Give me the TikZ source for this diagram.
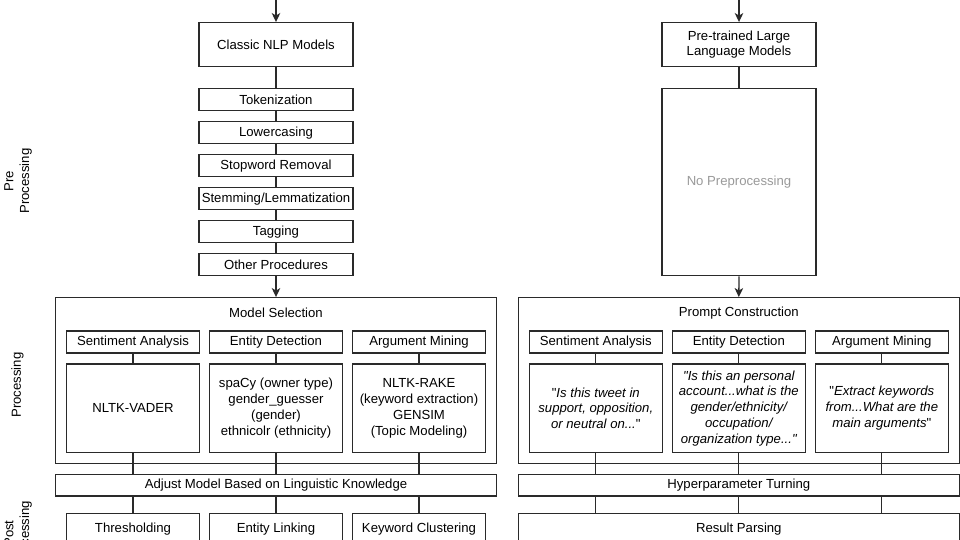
\documentclass[tikz,border=0pt]{standalone}
\usepackage{fontspec}
\setmainfont{Liberation Sans}
\usetikzlibrary{arrows.meta}
\definecolor{ln}{HTML}{2A2A2A}
\definecolor{gtxt}{HTML}{9A9A9A}
\newcommand\dq{\XeTeXglyph\XeTeXcharglyph"22\relax}
\begin{document}
\begin{tikzpicture}[x=1pt,y=-1pt,
  every node/.style={font=\fontsize{13.15}{15.8}\selectfont, text=black},
  box/.style={draw=ln, line width=1.3pt, inner sep=0pt, align=center, fill=white},
  ital/.style={font=\fontsize{13.15}{15.7}\selectfont\itshape},
  conn/.style={draw=ln, line width=1.3pt},
  arr/.style={conn, -{Stealth[length=9pt,width=8.5pt,inset=2.5pt]}},
  lbl/.style={rotate=90, align=center, inner sep=0pt},
  step22/.style={box, minimum width=154pt, minimum height=22pt},
  hdr/.style={box, minimum width=133pt, minimum height=22pt},
  cnt/.style={box, minimum width=133pt, minimum height=88.3pt},
  wide/.style={box, minimum width=441.3pt, minimum height=21.3pt},
]
\useasboundingbox (0,0) rectangle (960,540);

% side labels
\node[lbl] (prelbl) at (18,181) {Pre\\Processing};
\node[lbl] (proclbl) at (17.5,385) {Processing};
\node[lbl] (postlbl) at (18,533.5) {Post\\Processing};

% ---------- left column ----------
\coordinate (topL) at (276,-2);
\node[box, minimum width=154pt, minimum height=44pt] (classic) at (276,44.7) {Classic NLP Models};
\node[step22] (tok)   at (276,99.7)  {Tokenization};
\node[step22] (low)   at (276,132.7) {Lowercasing};
\node[step22] (stop)  at (276,165.7) {Stopword Removal};
\node[step22] (stem)  at (276,198.7) {Stemming/Lemmatization};
\node[step22] (tag)   at (276,231.7) {Tagging};
\node[step22] (other) at (276,264.7) {Other Procedures};

\node[box, minimum width=441.4pt, minimum height=165.6pt] (modsel) at (276,380.5) {};
\node (modseltxt) at (276,312.7) {Model Selection};
\node[hdr] (lh1) at (133,342) {Sentiment Analysis};
\node[hdr] (lh2) at (276,342) {Entity Detection};
\node[hdr] (lh3) at (419,342) {Argument Mining};
\node[cnt] (lc1) at (133,408.2) {NLTK-VADER};
\node[cnt] (lc2) at (276,408.2) {spaCy (owner type)\\gender\_guesser\\(gender)\\ethnicolr (ethnicity)};
\node[cnt] (lc3) at (419,408.2) {NLTK-RAKE\\(keyword extraction)\\GENSIM\\(Topic Modeling)};
\node[wide] (adjust) at (276,485.3) {Adjust Model Based on Linguistic Knowledge};
\node[box, minimum width=133pt, minimum height=32pt] (lp1) at (133,529.3) {Thresholding};
\node[box, minimum width=133pt, minimum height=32pt] (lp2) at (276,529.3) {Entity Linking};
\node[box, minimum width=133pt, minimum height=32pt] (lp3) at (419,529.3) {Keyword Clustering};

% ---------- right column ----------
\coordinate (topR) at (739,-2);
\node[box, minimum width=154pt, minimum height=44pt] (llm) at (739,44.7) {Pre-trained Large\\Language Models};
\node[box, minimum width=154pt, minimum height=187pt, text=gtxt] (noprep) at (739,182.2) {No Preprocessing};

\node[box, minimum width=441pt, minimum height=165.6pt] (prompt) at (738.8,380.5) {};
\node (prompttxt) at (738.8,312.7) {Prompt Construction};
\node[hdr] (rh1) at (595.8,342) {Sentiment Analysis};
\node[hdr] (rh2) at (738.8,342) {Entity Detection};
\node[hdr] (rh3) at (881.8,342) {Argument Mining};
\node[cnt, ital] (rc1) at (595.8,408.2) {{\upshape\dq}Is this tweet in\\support, opposition,\\or neutral on...{\upshape\dq}};
\node[cnt, ital] (rc2) at (738.8,408.2) {\dq Is this an personal\\account...what is the\\gender/ethnicity/\\occupation/\\organization type...\dq};
\node[cnt, ital] (rc3) at (881.8,408.2) {{\upshape\dq}Extract keywords\\from...What are the\\main arguments{\upshape\dq}};
\node[box, minimum width=441pt, minimum height=21.3pt] (hyper) at (738.8,485.3) {Hyperparameter Turning};
\node[box, minimum width=441pt, minimum height=32pt] (result) at (738.8,529.3) {Result Parsing};

% ---------- connectors ----------
\draw[arr] (topL) -- (classic.north);
\draw[conn] (classic.south) -- (tok.north);
\draw[conn] (tok.south) -- (low.north);
\draw[conn] (low.south) -- (stop.north);
\draw[conn] (stop.south) -- (stem.north);
\draw[conn] (stem.south) -- (tag.north);
\draw[conn] (tag.south) -- (other.north);
\draw[arr] (other.south) -- (modsel.north);
\foreach \i in {1,2,3}{
  \draw[conn] (lh\i.south) -- (lc\i.north);
  \draw[conn] (lc\i.south) -- (lc\i.south |- adjust.north);
  \draw[conn] (lc\i.south |- adjust.south) -- (lp\i.north);
  \draw[conn] (rh\i.south) -- (rc\i.north);
  \draw[conn] (rc\i.south) -- (rc\i.south |- hyper.north);
  \draw[conn] (rc\i.south |- hyper.south) -- (rc\i.south |- result.north);
}
\draw[arr] (topR) -- (llm.north);
\draw[conn] (llm.south) -- (noprep.north);
\draw[arr] (noprep.south) -- (prompt.north);
\end{tikzpicture}
\end{document}
